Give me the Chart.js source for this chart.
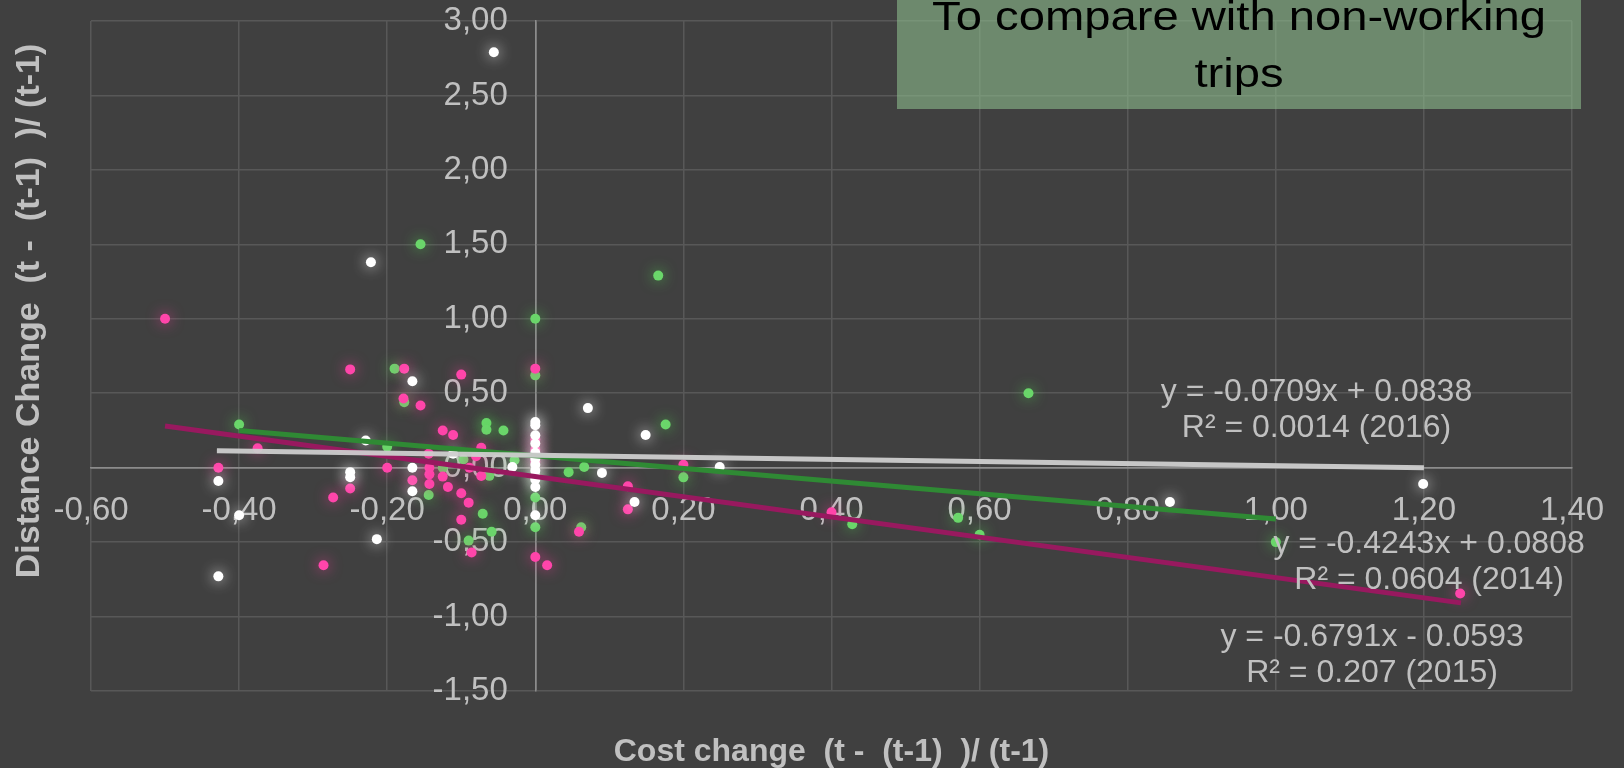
<!DOCTYPE html>
<html>
<head>
<meta charset="utf-8">
<script src="https://cdn.jsdelivr.net/npm/chart.js@4.4.1/dist/chart.umd.min.js"></script>
<style>
    html, body { margin: 0; padding: 0; background: #404040; }
    #wrap { width: 1624px; height: 768px; }
</style>
</head>
<body>
<div id="wrap"><canvas id="costChart" width="1624" height="768"></canvas></div>
<script>
// Dữ liệu: [cost change, distance change]
const points2014 = [
    [-0.155, 1.50], [0, 1.00], [0.166, 1.29], [-0.19, 0.665], [0, 0.62],
    [-0.177, 0.44], [-0.40, 0.29], [-0.20, 0.14], [-0.066, 0.30], [-0.066, 0.255],
    [-0.043, 0.25], [-0.097, 0.055], [-0.125, 0.0], [-0.062, -0.055], [-0.028, 0.05],
    [-0.144, -0.183], [-0.071, -0.31], [-0.059, -0.43], [-0.09, -0.49], [0, -0.20],
    [0, -0.40], [0, -0.05], [0.045, -0.03], [0.066, 0.005], [0.176, 0.29],
    [0.20, -0.065], [0.062, -0.40], [0.666, 0.50], [0.428, -0.38], [0.571, -0.337],
    [0.60, -0.45], [1.00, -0.50]
];
const points2015 = [
    [-0.50, 1.00], [-0.25, 0.66], [-0.177, 0.665], [-0.10, 0.625], [0, 0.665],
    [-0.178, 0.465], [-0.155, 0.418], [-0.375, 0.13], [-0.125, 0.25], [-0.111, 0.22],
    [-0.073, 0.133], [-0.144, 0.093], [-0.08, 0.077], [-0.428, 0.0], [-0.25, -0.14],
    [-0.20, 0.0], [-0.166, -0.085], [-0.143, 0.0], [-0.143, -0.045], [-0.143, -0.11],
    [-0.125, -0.06], [-0.118, -0.13], [-0.10, -0.172], [-0.09, -0.235], [-0.089, 0.0],
    [-0.073, -0.056], [-0.10, -0.35], [-0.086, -0.57], [-0.273, -0.20], [-0.286, -0.655],
    [0, 0.19], [0, 0.12], [0, 0.04], [0, -0.60], [0.016, -0.656],
    [0.059, -0.43], [0.125, -0.125], [0.125, -0.28], [0.20, 0.02], [0.40, -0.30],
    [1.249, -0.845]
];
const points2016 = [
    [-0.056, 2.79], [-0.222, 1.38], [-0.166, 0.58], [-0.229, 0.182], [-0.111, 0.093],
    [-0.428, -0.09], [-0.25, -0.03], [-0.25, -0.064], [-0.166, 0.0], [-0.166, -0.158],
    [-0.40, -0.32], [-0.214, -0.48], [-0.428, -0.73], [-0.031, 0.005], [0.071, 0.40],
    [0.149, 0.22], [0.249, 0.005], [0.09, -0.035], [0.134, -0.23], [0.857, -0.23],
    [1.199, -0.11], [0, 0.307], [0, 0.285], [0, 0.218], [0, 0.162],
    [0, 0.10], [0, 0.06], [0, 0.02], [0, -0.02], [0, -0.06],
    [0, -0.08], [0, -0.13], [0, -0.32]
];

// Đường xu hướng (hai đầu mút)
const trend2014 = [[-0.40, 0.250], [1.00, -0.344]];
const trend2015 = [[-0.50, 0.280], [1.25, -0.908]];
const trend2016 = [[-0.43, 0.114], [1.20, -0.001]];

const trendText2014 = ['y = -0.4243x + 0.0808', 'R² = 0.0604 (2014)'];
const trendText2015 = ['y = -0.6791x - 0.0593', 'R² = 0.207 (2015)'];
const trendText2016 = ['y = -0.0709x + 0.0838', 'R² = 0.0014 (2016)'];

const boxLines = ['To compare with non-working', 'trips'];
const xTitle = 'Cost change  (t -  (t-1)  )/ (t-1)';
const yTitle = 'Distance Change  (t -  (t-1)  )/ (t-1)';

const FONT = '"Liberation Sans", Arial, sans-serif';
const TEXT_GREY = '#c0c0c0';

function toXY(list) {
    return list.map(p => ({ x: p[0], y: p[1] }));
}

function fmt(v) {
    if (Math.abs(v) < 1e-9) v = 0;
    return v.toFixed(2).replace('.', ',');
}

// Hiệu ứng phát sáng cho các điểm
const glowPlugin = {
    id: 'glow',
    beforeDatasetDraw(chart, args) {
        const ds = chart.data.datasets[args.index];
        chart.ctx.save();
        if (ds.glow) {
            chart.ctx.shadowColor = ds.glow;
            chart.ctx.shadowBlur = 14;
        }
    },
    afterDatasetDraw(chart) {
        chart.ctx.restore();
    }
};

// Tiêu đề trục, nhãn phương trình và khung chú thích
const labelPlugin = {
    id: 'labels',
    afterDraw(chart) {
        const ctx = chart.ctx;
        const xs = chart.scales.x;
        const ys = chart.scales.y;
        const area = chart.chartArea;

        ctx.save();
        ctx.fillStyle = TEXT_GREY;
        ctx.font = 'bold 32px ' + FONT;
        ctx.textAlign = 'center';
        ctx.textBaseline = 'middle';
        ctx.fillText(xTitle, (area.left + area.right) / 2, 752);

        ctx.save();
        ctx.translate(30, 311);
        ctx.rotate(-Math.PI / 2);
        ctx.font = 'bold 34px ' + FONT;
        ctx.fillText(yTitle, 0, 0);
        ctx.restore();

        ctx.font = '32px ' + FONT;
        ctx.textBaseline = 'alphabetic';
        const drawEq = (lines, xv, yv) => {
            const px = xs.getPixelForValue(xv);
            const py = ys.getPixelForValue(yv);
            lines.forEach((t, i) => ctx.fillText(t, px, py + i * 36));
        };
        drawEq(trendText2016, 1.055, 0.448);
        drawEq(trendText2014, 1.207, -0.572);
        drawEq(trendText2015, 1.13, -1.198);

        // khung chú thích màu xanh
        ctx.fillStyle = 'rgba(140, 187, 140, 0.6)';
        ctx.fillRect(897, 0, 684, 109);
        ctx.fillStyle = '#000000';
        ctx.font = '40px ' + FONT;
        ctx.save();
        ctx.translate(1239, 0);
        ctx.scale(1.18, 1);
        ctx.fillText(boxLines[0], 0, 30);
        ctx.fillText(boxLines[1], 0, 87);
        ctx.restore();
        ctx.restore();
    }
};

const gridColor = c => (Math.abs(c.tick.value) < 1e-9 ? '#8c8c8c' : '#585858');

const ctx = document.getElementById('costChart').getContext('2d');
const chart = new Chart(ctx, {
    type: 'scatter',
    data: {
        datasets: [
            {
                label: 'trend 2016', data: toXY(trend2016), showLine: true,
                borderColor: 'rgba(205, 205, 205, 0.95)', borderWidth: 5,
                pointRadius: 0, order: 0
            },
            {
                label: 'trend 2014', data: toXY(trend2014), showLine: true,
                borderColor: '#2f8a34', borderWidth: 5,
                pointRadius: 0, order: 1
            },
            {
                label: 'trend 2015', data: toXY(trend2015), showLine: true,
                borderColor: '#98195f', borderWidth: 5,
                pointRadius: 0, order: 2
            },
            {
                label: '2016', data: toXY(points2016),
                backgroundColor: '#ffffff', borderWidth: 0,
                pointRadius: 5, glow: 'rgba(255, 255, 255, 0.85)', order: 3
            },
            {
                label: '2015', data: toXY(points2015),
                backgroundColor: '#ff45aa', borderWidth: 0,
                pointRadius: 5, glow: 'rgba(255, 60, 160, 0.75)', order: 4
            },
            {
                label: '2014', data: toXY(points2014),
                backgroundColor: '#6ad66a', borderWidth: 0,
                pointRadius: 5, glow: 'rgba(80, 220, 80, 0.75)', order: 5
            }
        ]
    },
    options: {
        responsive: false,
        animation: false,
        layout: { padding: { left: 91, right: 52, top: 21, bottom: 77 } },
        plugins: {
            legend: { display: false },
            tooltip: { enabled: false }
        },
        scales: {
            x: {
                type: 'linear',
                min: -0.6, max: 1.4,
                position: { y: 0 },
                grid: { color: gridColor, lineWidth: 1.5, drawTicks: false },
                border: { color: '#8c8c8c', width: 1.5 },
                afterFit(scale) { scale.paddingLeft = 0; scale.paddingRight = 0; },
                ticks: {
                    stepSize: 0.2, autoSkip: false, maxRotation: 0,
                    padding: 23, color: TEXT_GREY,
                    font: { family: FONT, size: 33 },
                    callback: v => fmt(v)
                }
            },
            y: {
                type: 'linear',
                min: -1.5, max: 3.0,
                position: { x: 0 },
                grid: { color: gridColor, lineWidth: 1.5, drawTicks: false },
                border: { color: '#8c8c8c', width: 1.5 },
                afterFit(scale) { scale.paddingTop = 0; scale.paddingBottom = 0; },
                ticks: {
                    stepSize: 0.5, autoSkip: false,
                    color: TEXT_GREY,
                    font: { family: FONT, size: 33 },
                    // khoảng trống sau nhãn để tách nhãn khỏi trục
                    callback: v => fmt(v) + '   '
                }
            }
        }
    },
    plugins: [glowPlugin, labelPlugin]
});
</script>
</body>
</html>
